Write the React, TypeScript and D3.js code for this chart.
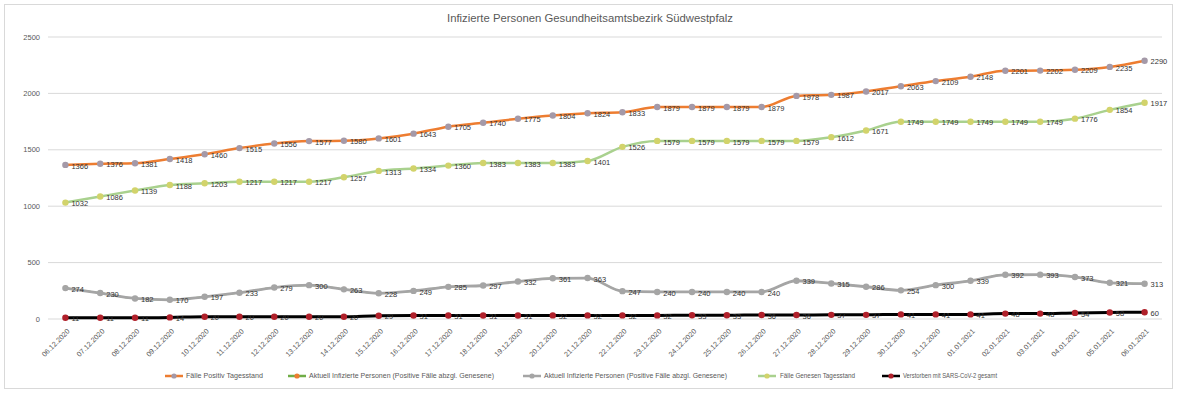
import React from "react";
import * as d3 from "d3";

const dates = [
  "06.12.2020","07.12.2020","08.12.2020","09.12.2020","10.12.2020","11.12.2020","12.12.2020","13.12.2020",
  "14.12.2020","15.12.2020","16.12.2020","17.12.2020","18.12.2020","19.12.2020","20.12.2020","21.12.2020",
  "22.12.2020","23.12.2020","24.12.2020","25.12.2020","26.12.2020","27.12.2020","28.12.2020","29.12.2020",
  "30.12.2020","31.12.2020","01.01.2021","02.01.2021","03.01.2021","04.01.2021","05.01.2021","06.01.2021",
];
const positive = [1366,1376,1381,1418,1460,1515,1556,1577,1580,1601,1643,1705,1740,1775,1804,1824,1833,1879,1879,1879,1879,1978,1987,2017,2063,2109,2148,2201,2202,2209,2235,2290];
const active = [274,230,182,170,197,233,279,300,263,228,249,285,297,332,361,363,247,240,240,240,240,339,315,286,254,300,339,392,393,373,321,313];
const recovered = [1032,1086,1139,1188,1203,1217,1217,1217,1257,1313,1334,1360,1383,1383,1383,1401,1526,1579,1579,1579,1579,1579,1612,1671,1749,1749,1749,1749,1749,1776,1854,1917];
const deaths = [11,11,11,14,20,20,20,20,20,29,31,31,31,31,32,32,32,32,33,33,36,36,37,37,41,41,41,48,48,54,58,60];
const yTicks = [0,500,1000,1500,2000,2500];

const legendNames = [
  "Fälle Positiv Tagesstand",
  "Aktuell Infizierte Personen (Positive Fälle abzgl. Genesene)",
  "Aktuell Infizierte Personen (Positive Fälle abzgl. Genesene)",
  "Fälle Genesen Tagesstand",
  "Verstorben mit SARS-CoV-2 gesamt",
];

const FONT = "'Liberation Sans', Arial, sans-serif";

export default function App() {
  const W = 1180, H = 394;
  const x = d3.scalePoint<string>().domain(dates).range([48, 1162]).padding(0.5);
  const y = d3.scaleLinear().domain([0, 2500]).range([319, 37]);

  const series = [
    { key: "activeHidden", values: active, line: "#70AD47", marker: "#ED7D31", width: 1.5, r: 2.5, labels: false },
    { key: "active", values: active, line: "#A5A5A5", marker: "#A5A5A5", width: 2.8, r: 3.2, labels: true },
    { key: "recovered", values: recovered, line: "#A9D18E", marker: "#D2D36B", width: 2.5, r: 3.2, labels: true },
    { key: "positive", values: positive, line: "#ED7D31", marker: "#A499A8", width: 2.5, r: 3.2, labels: true },
    { key: "deaths", values: deaths, line: "#000000", marker: "#B0202A", width: 3, r: 3.2, labels: true },
  ];

  const legend = [
    { name: legendNames[0], line: "#ED7D31", marker: "#A499A8", lx: 165, tx: 186, tw: 77 },
    { name: legendNames[1], line: "#70AD47", marker: "#ED7D31", lx: 288, tx: 309, tw: 185 },
    { name: legendNames[2], line: "#A5A5A5", marker: "#A5A5A5", lx: 523, tx: 544, tw: 183 },
    { name: legendNames[3], line: "#A9D18E", marker: "#D2D36B", lx: 758, tx: 780, tw: 75 },
    { name: legendNames[4], line: "#000000", marker: "#B0202A", lx: 882, tx: 903, tw: 94 },
  ];

  return (
    <svg width={W} height={H} style={{ position: "absolute", left: 0, top: 0, background: "#fff" }} fontFamily={FONT}>
      <rect x={0} y={0} width={W} height={H} fill="#fff" />
      <rect x={4.5} y={4.5} width={1168} height={384} fill="#fff" stroke="#d9d9d9" />
      <text x={590} y={22} textAnchor="middle" fontSize={10.5} fill="#595959" textLength={286} lengthAdjust="spacingAndGlyphs">
        Infizierte Personen Gesundheitsamtsbezirk Südwestpfalz
      </text>
      {yTicks.map((t) => (
        <g key={t}>
          <line x1={48} x2={1162} y1={y(t)} y2={y(t)} stroke="#d9d9d9" strokeWidth={1} />
          <text x={40} y={y(t)} dy="0.35em" textAnchor="end" fontSize={7.5} fill="#595959">{t}</text>
        </g>
      ))}
      {dates.map((d) => (
        <text key={d} transform={`translate(${(x(d) as number) + 3},${330}) rotate(-45)`} textAnchor="end" dy="0.35em" fontSize={7.2} fill="#595959">{d}</text>
      ))}
      {series.map((s) => {
        const line = d3.line<number>().x((_, i) => x(dates[i]) as number).y((v) => y(v)).curve(d3.curveMonotoneX);
        return (
          <g key={s.key}>
            <path d={line(s.values) || ""} fill="none" stroke={s.line} strokeWidth={s.width} strokeLinejoin="round" />
            {s.values.map((v, i) => (
              <circle key={i} cx={x(dates[i]) as number} cy={y(v)} r={s.r} fill={s.marker} />
            ))}
            {s.labels && s.values.map((v, i) => (
              <text key={"l" + i} x={(x(dates[i]) as number) + 6} y={y(v) + 1} dy="0.35em" fontSize={7.5} fill="#333333">{v}</text>
            ))}
          </g>
        );
      })}
      {legend.map((l, i) => (
        <g key={i}>
          <line x1={l.lx} x2={l.lx + 18} y1={376} y2={376} stroke={l.line} strokeWidth={2.5} />
          <circle cx={l.lx + 9} cy={376} r={2.6} fill={l.marker} />
          <text x={l.tx} y={376} dy="0.35em" fontSize={7} fill="#595959" textLength={l.tw} lengthAdjust="spacingAndGlyphs">{l.name}</text>
        </g>
      ))}
    </svg>
  );
}
